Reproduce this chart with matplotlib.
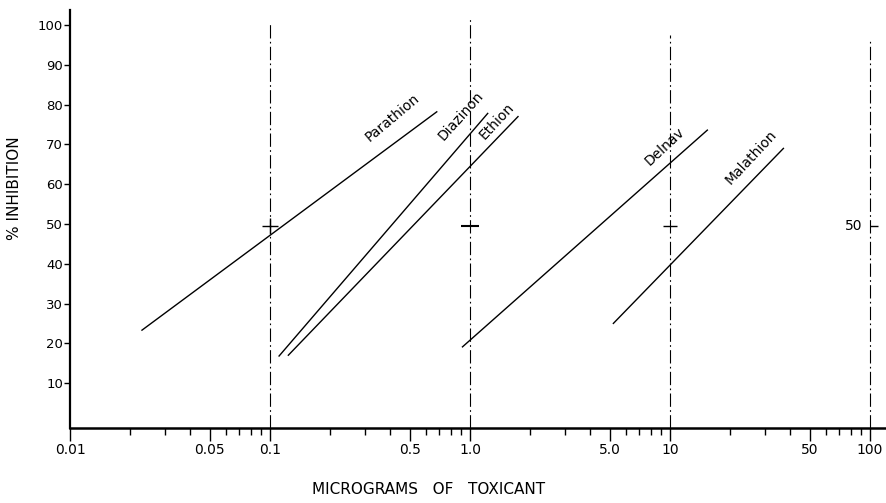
#!/usr/bin/env python3

import matplotlib
matplotlib.use("Agg")
import matplotlib.pyplot as plt


# Dose-response lines, % inhibition vs micrograms of toxicant (log scale)
COMPOUNDS = ["Parathion", "Diazinon", "Ethion", "Delnav", "Malathion"]
X_START = [0.0229, 0.111, 0.1235, 0.917, 5.21]
X_END = [0.682, 1.226, 1.738, 15.37, 36.9]
Y_START = [23.3, 16.8, 17.0, 19.1, 25.0]
Y_END = [78.2, 77.8, 77.0, 73.6, 69.0]

# Reference dose lines and their 50 % marks
REF_X = [0.1, 1.0, 10.0, 100.0]
REF_TOP = [100.5, 101.8, 97.5, 96.8]
MARK_Y = 49.6

X_TICKS = [0.01, 0.05, 0.1, 0.5, 1.0, 5.0, 10, 50, 100]
X_TICK_LABELS = ["0.01", "0.05", "0.1", "0.5", "1.0", "5.0", "10", "50", "100"]
Y_TICKS = [10, 20, 30, 40, 50, 60, 70, 80, 90, 100]

# Label anchor for each compound name
LABEL_X = [0.41, 0.90, 1.36, 9.4, 25.5]
LABEL_Y = [76.8, 77.3, 75.8, 69.5, 66.8]
LABEL_ROT = [40, 48, 47, 43, 47]

FONT = "DejaVu Sans"


def minor_ticks():
    ticks = []
    for decade in [0.01, 0.1, 1.0, 10.0]:
        for m in range(2, 10):
            if m == 5:
                continue
            ticks.append(decade * m)
    return ticks


def main():
    plt.rcParams["font.family"] = [FONT]

    fig = plt.figure(figsize=(8.87, 5.03), dpi=100)
    ax = fig.add_axes([70 / 887, 75 / 503, 817 / 887, 418 / 503])

    ax.set_xscale("log")
    ax.set_xlim(0.01, 121.6)
    ax.set_ylim(-1.3, 103.8)

    # Dashed-dotted reference lines
    for x, top in zip(REF_X, REF_TOP):
        ax.plot(
            [x, x],
            [ax.get_ylim()[0], top],
            color="black",
            linewidth=0.8,
            linestyle=(0, (12, 3, 1.5, 3)),
            zorder=2,
        )

    # 50 % marks on the reference lines
    ax.plot([REF_X[0]], [MARK_Y], marker="+", markersize=11,
            markeredgewidth=1.0, color="black", zorder=3)
    ax.plot([REF_X[1]], [MARK_Y], marker="_", markersize=13,
            markeredgewidth=1.5, color="black", zorder=3)
    ax.plot([REF_X[2]], [MARK_Y], marker="_", markersize=10,
            markeredgewidth=1.0, color="black", zorder=3)
    ax.plot([REF_X[3] * 1.05], [MARK_Y], marker="_", markersize=6,
            markeredgewidth=1.0, color="black", zorder=3)
    ax.text(REF_X[3] * 0.92, MARK_Y, "50", fontsize=10,
            ha="right", va="center")

    # Compound lines
    for i, name in enumerate(COMPOUNDS):
        ax.plot(
            [X_START[i], X_END[i]],
            [Y_START[i], Y_END[i]],
            color="black",
            linewidth=1.0,
            zorder=3,
        )
        ax.text(
            LABEL_X[i],
            LABEL_Y[i],
            name,
            fontsize=10,
            rotation=LABEL_ROT[i],
            rotation_mode="anchor",
            ha="center",
            va="center",
        )

    # Axes styling
    for side in ["top", "right"]:
        ax.spines[side].set_visible(False)
    ax.spines["left"].set_linewidth(1.6)
    ax.spines["bottom"].set_linewidth(1.8)

    ax.set_xticks(X_TICKS)
    ax.set_xticklabels(X_TICK_LABELS)
    ax.set_xticks(minor_ticks(), minor=True)
    ax.xaxis.set_minor_formatter(matplotlib.ticker.NullFormatter())
    ax.tick_params(axis="x", which="major", direction="out", length=9,
                   width=1.0, labelsize=10, pad=2)
    ax.tick_params(axis="x", which="minor", direction="out", length=5,
                   width=1.0)

    ax.set_yticks(Y_TICKS)
    ax.set_yticklabels([str(v) for v in Y_TICKS])
    ax.tick_params(axis="y", which="major", direction="out", length=4,
                   width=1.0, labelsize=9.5, pad=1)
    ax.tick_params(axis="y", which="minor", left=False)

    fig.text(15 / 887, 1 - 188 / 503, "% INHIBITION", rotation=90,
             ha="center", va="center", fontsize=11)
    fig.text(429 / 887, 1 - 490 / 503, "MICROGRAMS   OF   TOXICANT",
             ha="center", va="center", fontsize=11)

    fig.savefig("out.png", dpi=100)


if __name__ == "__main__":
    main()
